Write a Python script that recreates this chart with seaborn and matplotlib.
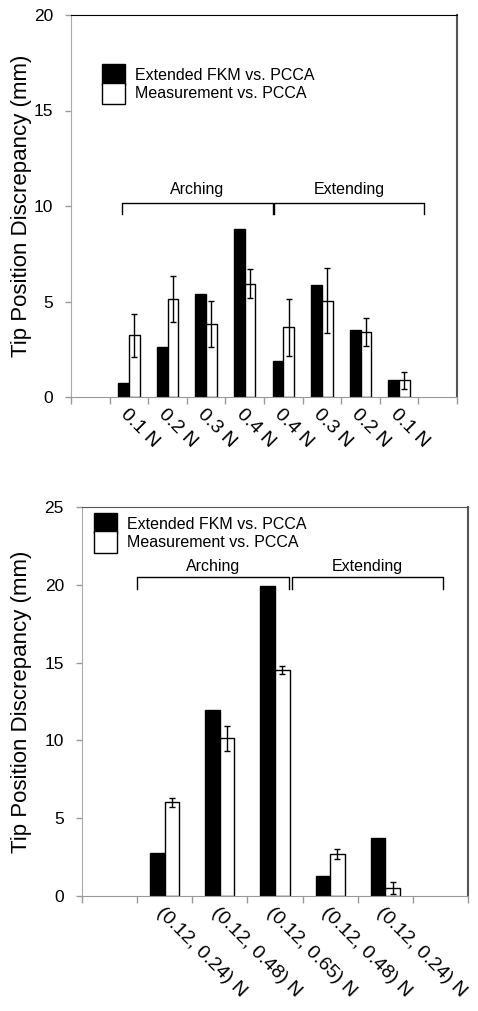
import numpy as np
import pandas as pd
import matplotlib
matplotlib.use("Agg")
import matplotlib.pyplot as plt
import matplotlib.transforms as mtransforms
import seaborn as sns

# ---- data ----
series = ["Extended FKM vs. PCCA", "Measurement vs. PCCA"]
colors = ["black", "white"]

# top panel: single force
top_keys = ["pad0", "a1", "a2", "a3", "a4", "e4", "e3", "e2", "e1", "pad9"]
top_labels = ["", "0.1 N", "0.2 N", "0.3 N", "0.4 N", "0.4 N", "0.3 N", "0.2 N", "0.1 N", ""]
top_fkm = [0.73, 2.6, 5.37, 8.8, 1.88, 5.84, 3.52, 0.87]
top_meas = [3.22, 5.12, 3.82, 5.94, 3.64, 5.05, 3.41, 0.87]
top_meas_err = [1.15, 1.2, 1.2, 0.75, 1.5, 1.7, 0.75, 0.45]

# bottom panel: force pairs
bot_keys = ["pad0", "a1", "a2", "a3", "e2", "e1", "pad6"]
bot_labels = ["", "(0.12, 0.24) N", "(0.12, 0.48) N", "(0.12, 0.65) N",
              "(0.12, 0.48) N", "(0.12, 0.24) N", ""]
bot_fkm = [2.79, 11.97, 19.9, 1.27, 3.73]
bot_meas = [6.01, 10.13, 14.53, 2.70, 0.52]
bot_meas_err = [0.3, 0.8, 0.28, 0.3, 0.4]

plt.rcParams['font.family'] = ['Liberation Sans', 'DejaVu Sans']


def make_df(keys, fkm, meas):
    used = keys[1:-1]
    return pd.DataFrame({
        "cond": used * 2,
        "series": [series[0]] * len(used) + [series[1]] * len(used),
        "value": list(fkm) + list(meas),
    })


def draw_panel(ax, keys, labels, fkm, meas, err, width, ymax, ystep,
               legend_xy, groups, group_y, spine_top, label_x, lab_off):
    df = make_df(keys, fkm, meas)
    sns.barplot(data=df, x="cond", y="value", hue="series", order=keys,
                hue_order=series, palette=colors, width=width, errorbar=None,
                edgecolor="black", linewidth=1.0, saturation=1, ax=ax)
    # error bars on the measurement bars, taken from the drawn patches
    meas_patches = [p for p in ax.patches if p.get_facecolor()[0] > 0.5
                    and p.get_height() > 0][:len(meas)]
    xs = [p.get_x() + p.get_width() / 2 for p in meas_patches]
    ax.errorbar(xs, meas, yerr=err, fmt="none", ecolor="black",
                elinewidth=1.0, capsize=2.3, capthick=1.0)

    n = len(keys)
    ax.set_xlim(-0.5, n - 0.5)
    ax.set_ylim(0, ymax)
    ax.set_yticks(np.arange(0, ymax + 0.1, ystep))
    ax.set_xticks(np.arange(n))
    ax.set_xticklabels(labels, rotation=-45, ha="left", va="top",
                       rotation_mode="anchor", fontsize=14)
    offset = mtransforms.ScaledTranslation(lab_off[0] / 100, lab_off[1] / 100,
                                           ax.figure.dpi_scale_trans)
    for lab in ax.get_xticklabels():
        lab.set_transform(lab.get_transform() + offset)
    ax.tick_params(axis="x", which="major", length=0, pad=6)
    ax.set_xticks(np.arange(n + 1) - 0.5, minor=True)
    ax.tick_params(axis="x", which="minor", length=5, width=1, color="#999999")
    ax.tick_params(axis="y", length=4, width=1, color="#999999", labelsize=12.5, pad=9)
    ax.set_xlabel("")
    ax.set_ylabel("Tip Position Discrepancy (mm)", fontsize=16)
    ax.yaxis.set_label_coords(label_x, 0.5)

    ax.spines["top"].set_color(spine_top)
    ax.spines["right"].set_color("#555555")
    ax.spines["right"].set_linewidth(1.5)
    ax.spines["left"].set_color("#aaaaaa")
    ax.spines["bottom"].set_color("#999999")
    for s in ax.spines.values():
        s.set_visible(True)

    handles, labs = ax.get_legend_handles_labels()
    ax.legend(handles, labs, loc="upper left", bbox_to_anchor=legend_xy,
              frameon=False, fontsize=11.5, borderpad=0, borderaxespad=0,
              handlelength=1.45, handleheight=1.65, handletextpad=0.6,
              labelspacing=-0.15)

    # group brackets
    y_top, y_bot, y_txt = group_y
    for name, x0, x1 in groups:
        ax.plot([x0, x0, x1, x1], [y_bot, y_top, y_top, y_bot],
                color="black", lw=1.0, solid_joinstyle="round")
        ax.text((x0 + x1) / 2, y_txt, name, ha="center", va="center",
                fontsize=11.5)


fig = plt.figure(figsize=(4.78, 10.11), dpi=100)
ax1 = fig.add_axes([71 / 478, 1 - 397 / 1011, 386 / 478, 382 / 1011])
ax2 = fig.add_axes([82 / 478, 1 - 896 / 1011, 386 / 478, 389 / 1011])

draw_panel(ax1, top_keys, top_labels, top_fkm, top_meas, top_meas_err,
           width=0.55, ymax=20, ystep=5, legend_xy=(0.08, 0.872),
           groups=[("Arching", 0.81, 4.73), ("Extending", 4.77, 8.65)],
           group_y=(10.15, 9.6, 10.85), spine_top="black",
           label_x=-0.101, lab_off=(-20, -2))
draw_panel(ax2, bot_keys, bot_labels, bot_fkm, bot_meas, bot_meas_err,
           width=0.53, ymax=25, ystep=5, legend_xy=(0.031, 0.985),
           groups=[("Arching", 0.5, 3.26), ("Extending", 3.3, 6.05)],
           group_y=(20.5, 19.73, 21.2), spine_top="#555555",
           label_x=-0.13, lab_off=(-19, -3))

fig.savefig("out.png", dpi=100, facecolor="white")
